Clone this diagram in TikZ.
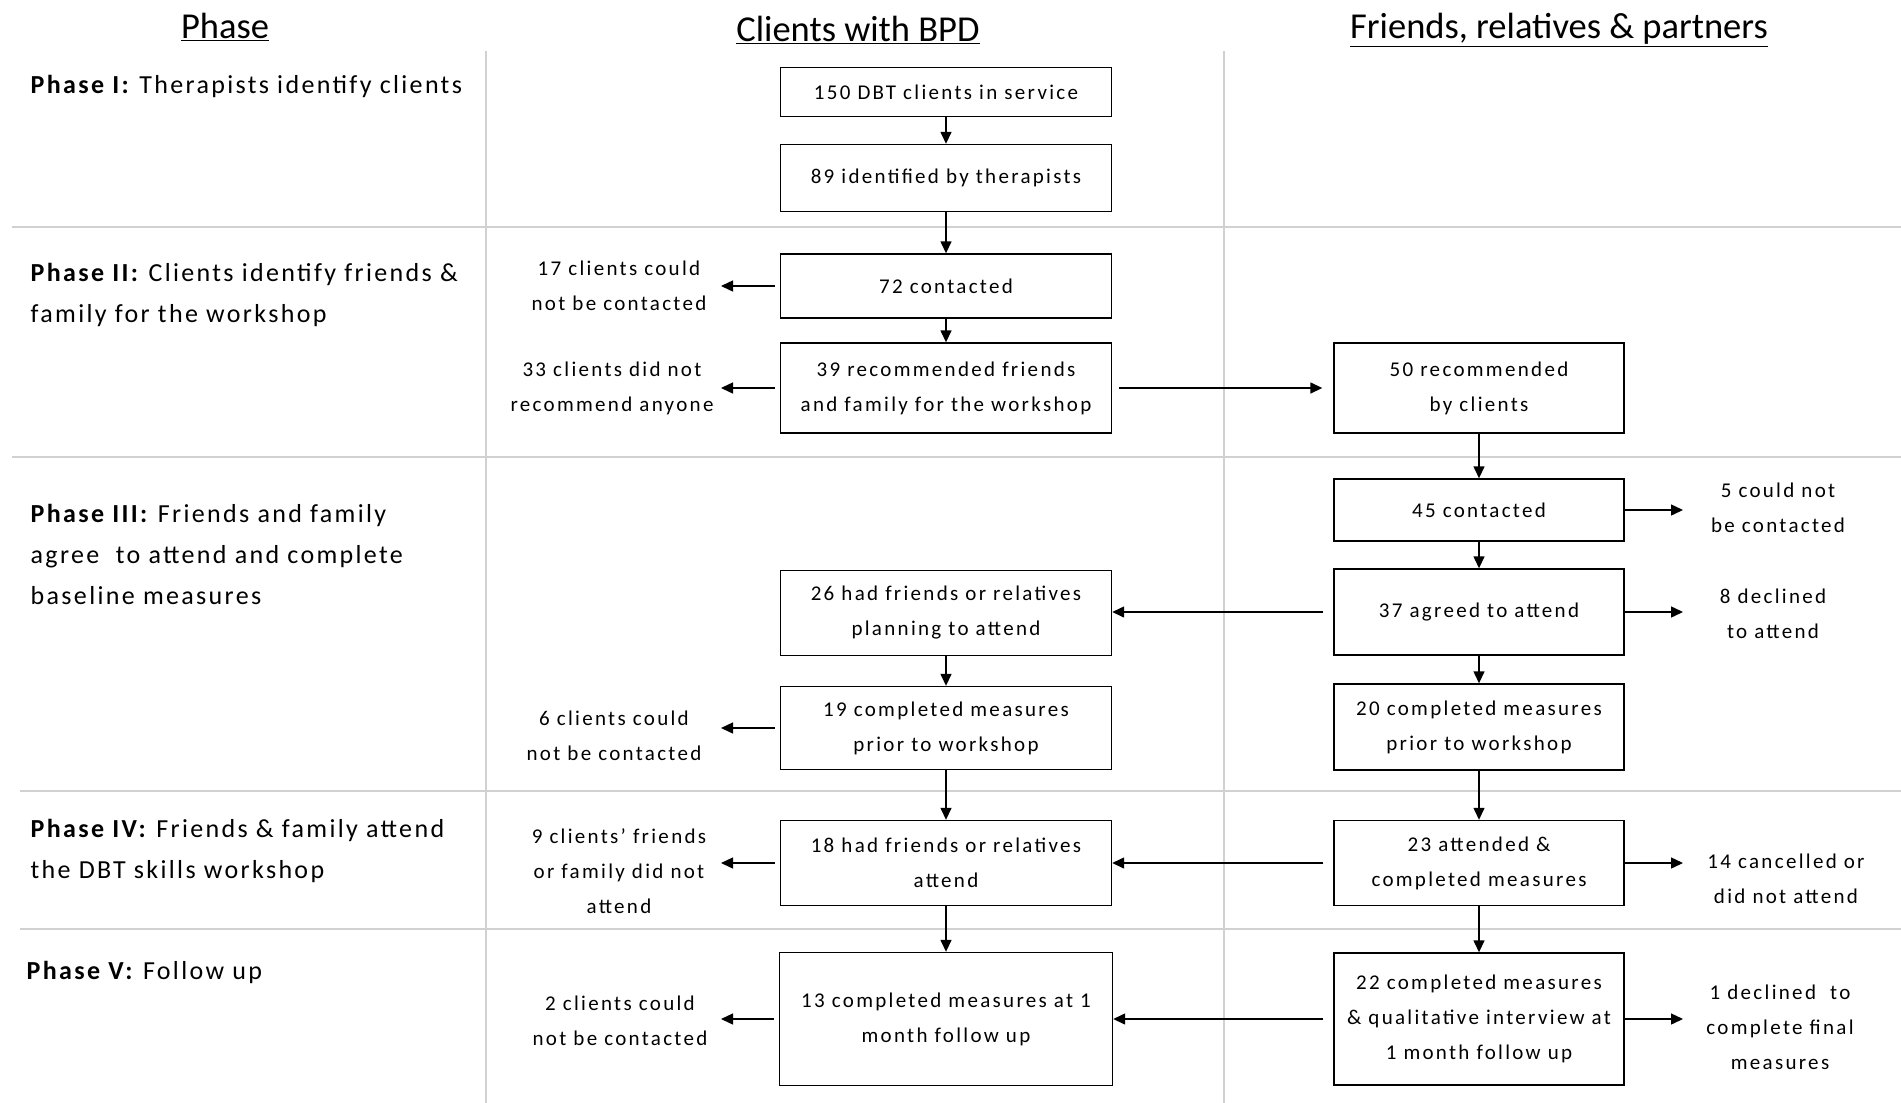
\documentclass[tikz,border=0pt]{standalone}
\usepackage{fontspec}
\usepackage{tikz}
\setmainfont{Carlito}
\newfontfamily\boxfont{Carlito}[LetterSpace=11]
\newfontfamily\phasefont{Carlito}[LetterSpace=9]
\usetikzlibrary{arrows.meta, positioning}

\begin{document}
\begin{tikzpicture}[x=1pt,y=-1pt,line width=1.4pt,
                    box node/.style={draw,rectangle,align=center,minimum width=331pt,
                                     font=\boxfont\fontsize{21}{35}\selectfont},
                    friend node/.style={box node,minimum width=290pt},
                    note node/.style={align=center,inner sep=0pt,
                                      font=\boxfont\fontsize{21}{35}\selectfont},
                    phase node/.style={anchor=west,align=left,inner sep=0pt,
                                       font=\phasefont\fontsize{26}{41}\selectfont},
                    head node/.style={inner sep=0pt,font=\fontsize{36.5}{40}\selectfont},
                    grid line/.style={draw=black!18,line width=2pt},
                    flow/.style={-{Triangle[length=12pt,width=11pt]}}]

  \useasboundingbox (0,0) rectangle (1901,1103);

  % table lines
  \draw[grid line] (486,51) -- (486,1103);
  \draw[grid line] (1224,51) -- (1224,1103);
  \draw[grid line] (12,227) -- (1901,227);
  \draw[grid line] (12,457) -- (1901,457);
  \draw[grid line] (20,791) -- (1901,791);
  \draw[grid line] (20,929) -- (1901,929);

  % headings
  \node[head node] (hphase) at (225,27) {\underline{Phase}};
  \node[head node] (hclient) at (858,30) {\underline{Clients with BPD}};
  \node[head node] (hfriend) at (1559,30) {\underline{Friends, relatives \& partners}};

  % phases
  \node[phase node] (p1) at (30,86) {\textbf{Phase I:} Therapists identify clients};
  \node[phase node] (p2) at (30,295) {\textbf{Phase II:} Clients identify friends \&\\family for the workshop};
  \node[phase node] (p3) at (30,554) {\textbf{Phase III:} Friends and family\\agree\ \ to attend and complete\\baseline measures};
  \node[phase node] (p4) at (30,851) {\textbf{Phase IV:} Friends \& family attend\\the DBT skills workshop};
  \node[phase node] (p5) at (26,972) {\textbf{Phase V:} Follow up};

  % clients with BPD
  \node[box node,minimum height=49pt] (c1) at (946,92) {150 DBT clients in service};
  \node[box node,minimum height=67pt] (c2) at (946,178) {89 identified by therapists};
  \node[box node,minimum height=64pt] (c3) at (946,286) {72 contacted};
  \node[box node,minimum height=90pt] (c4) at (946,388) {39 recommended friends\\and family for the workshop};
  \node[box node,minimum height=85pt] (c5) at (946,613) {26 had friends or relatives\\planning to attend};
  \node[box node,minimum height=83pt] (c6) at (946,728) {19 completed measures\\prior to workshop};
  \node[box node,minimum height=85pt] (c7) at (946,863) {18 had friends or relatives\\attend};
  \node[box node,minimum height=133pt,minimum width=333pt] (c8) at (946,1019) {13 completed measures at 1\\month follow up};

  % friends, relatives and partners
  \node[friend node,minimum height=90pt] (f1) at (1479,388) {50 recommended\\by clients};
  \node[friend node,minimum height=62pt] (f2) at (1479,510) {45 contacted};
  \node[friend node,minimum height=86pt] (f3) at (1479,612) {37 agreed to attend};
  \node[friend node,minimum height=86pt] (f4) at (1479,727) {20 completed measures\\prior to workshop};
  \node[friend node,minimum height=85pt] (f5) at (1479,863) {23 attended \&\\completed measures};
  \node[friend node,minimum height=132pt] (f6) at (1479,1019) {22 completed measures\\\& qualitative interview at\\1 month follow up};

  % drop outs
  \node[note node] (n1) at (619,286) {17 clients could\\not be contacted};
  \node[note node] (n2) at (612,388) {33 clients did not\\recommend anyone};
  \node[note node] (n3) at (614,736) {6 clients could\\not be contacted};
  \node[note node] (n4) at (619,871) {9 clients’ friends\\or family did not\\attend};
  \node[note node] (n5) at (620,1021) {2 clients could\\not be contacted};
  \node[note node] (r1) at (1778,508) {5 could not\\be contacted};
  \node[note node] (r2) at (1773,614) {8 declined\\to attend};
  \node[note node] (r3) at (1786,879) {14 cancelled or\\did not attend};
  \node[note node] (r4) at (1780,1027) {1 declined\ \ to\\complete final\\measures};

  \coordinate (lt) at (721,0);
  \coordinate (rt) at (1683,0);

  \path[flow]
    (c1) edge (c2)
    (c2) edge (c3)
    (c3) edge (c4)
    (c5) edge (c6)
    (c6) edge (c7)
    (c7) edge (c8)
    (f1) edge (f2)
    (f2) edge (f3)
    (f3) edge (f4)
    (f4) edge (f5)
    (f5) edge (f6)
    (c4) edge[shorten <=7pt,shorten >=11pt] (f1);

  \path[flow]
    ([xshift=-5pt]c3.west) edge (c3.west -| lt)
    ([xshift=-5pt]c4.west) edge (c4.west -| lt)
    ([xshift=-5pt]c6.west) edge (c6.west -| lt)
    ([xshift=-5pt]c7.west) edge (c7.west -| lt)
    ([xshift=-5pt]c8.west) edge (c8.west -| lt)
    (f2.east) edge (f2.east -| rt)
    (f3.east) edge (f3.east -| rt)
    (f5.east) edge (f5.east -| rt)
    (f6.east) edge (f6.east -| rt)
    ([xshift=-10pt]f3.west) edge (f3.west -| c5.east)
    ([xshift=-10pt]f5.west) edge (f5.west -| c7.east)
    ([xshift=-10pt]f6.west) edge (f6.west -| c8.east);

\end{tikzpicture}
\end{document}
